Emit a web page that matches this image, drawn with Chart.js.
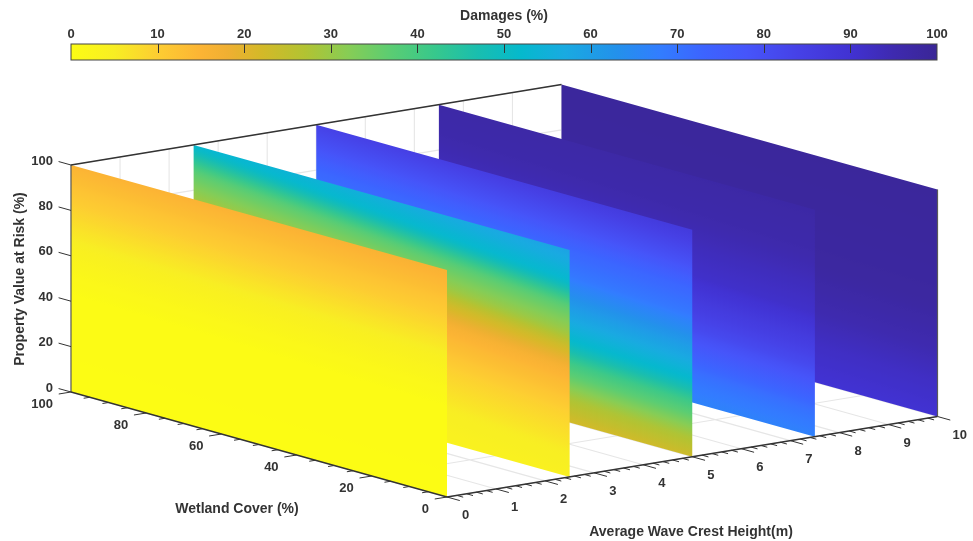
<!DOCTYPE html>
<html>
<head>
<meta charset="utf-8">
<title>Damages</title>
<script src="https://cdn.jsdelivr.net/npm/chart.js@4"></script>
<style>
  body { margin: 0; background: #fff; }
  #wrap { position: relative; width: 973px; height: 541px; overflow: hidden; }
  canvas { position: absolute; left: 0; top: 0; display: block; }
</style>
</head>
<body>
<div id="wrap">
  <canvas id="walls" width="973" height="541"></canvas>
  <canvas id="colorbar" width="973" height="70"></canvas>
</div>
<script>
// axes
const heightTicks = [0, 1, 2, 3, 4, 5, 6, 7, 8, 9, 10];
const coverTicks = [0, 20, 40, 60, 80, 100];
const riskTicks = [0, 20, 40, 60, 80, 100];
const damageTicks = [0, 10, 20, 30, 40, 50, 60, 70, 80, 90, 100];

// wave crest height of each wall, and how far the colour bands tilt with wetland cover
const wallHeights = [10, 7.5, 5, 2.5, 0];
const wallTilts = [0.05, 0.05, 0.06, 0.13, 0.03];

// damage read along each wall: levels are risk minus tilt * cover
const levels10 = [-5, 0, 15, 30, 50, 100];
const damages10 = [89, 90, 92, 95, 98, 99];
const levels75 = [-5, 0, 10, 18, 32, 54, 83, 100];
const damages75 = [66, 67, 70, 74, 82, 91, 96, 97];
const levels5 = [-6, 0, 9, 19, 24, 34, 48, 63, 75, 86, 100];
const damages5 = [21, 23, 28, 37, 41, 52, 60, 69, 73, 80, 87];
const levels25 = [-13, 0, 10, 30, 47, 57, 63, 75, 86, 100];
const damages25 = [3, 4, 5, 10, 16, 23, 29, 37, 52, 59];
const levels0 = [-3, 40, 50, 60, 70, 80, 90, 100];
const damages0 = [0, 0.5, 2, 4, 7, 10, 13, 16];
const wallLevels = [levels10, levels75, levels5, levels25, levels0];
const wallDamages = [damages10, damages75, damages5, damages25, damages0];

// colour map of the colour bar
const colorLevels = [0, 5, 10, 15, 18, 22, 27, 32, 37, 42, 47, 52, 57, 63, 68, 73, 78, 84, 90, 95, 100];
const colorValues = ['#fcfc14', '#f8ee23', '#fdcd32', '#fcb434', '#f0af32', '#d4b928', '#b2c332', '#87cd55', '#5acd73',
  '#37c88c', '#19beaf', '#05b9cd', '#19aae1', '#2391eb', '#327dff', '#3c64ff', '#4655fa', '#4641e6', '#4132d2', '#3e2aaf', '#3a2696'];

// projection of the 3D box on the page
const originX = 447, originY = 497;
const heightStepX = 49.05, heightStepY = -8.05;
const coverStepX = -3.76, coverStepY = -1.05;
const riskStepY = -2.27;

const labelFont = 'bold 13px "Liberation Sans", Arial, sans-serif';
const titleFont = 'bold 14px "Liberation Sans", Arial, sans-serif';
const textColor = '#333333';

function project(h, c, r) {
  return {
    x: originX + h * heightStepX + c * coverStepX,
    y: originY + h * heightStepY + c * coverStepY + r * riskStepY
  };
}

function hexToRgb(hex) {
  return [1, 3, 5].map(i => parseInt(hex.substr(i, 2), 16));
}

function lookup(xs, ys, v) {
  if (v <= xs[0]) return ys[0];
  for (let i = 1; i < xs.length; i++) {
    if (v <= xs[i]) return ys[i - 1] + (ys[i] - ys[i - 1]) * (v - xs[i - 1]) / (xs[i] - xs[i - 1]);
  }
  return ys[ys.length - 1];
}

function damageColor(d) {
  const idx = colorLevels.findIndex(l => l >= d);
  if (idx <= 0) return colorValues[0];
  const a = hexToRgb(colorValues[idx - 1]), b = hexToRgb(colorValues[idx]);
  const f = (d - colorLevels[idx - 1]) / (colorLevels[idx] - colorLevels[idx - 1]);
  return 'rgb(' + a.map((v, i) => Math.round(v + (b[i] - v) * f)).join(',') + ')';
}

// a linear gradient across the wall, its bands run along constant (risk - tilt * cover)
function wallGradient(chart, i) {
  if (!chart.chartArea) return colorValues[0];
  const sx = chart.scales.x, sy = chart.scales.y;
  const h = wallHeights[i], tilt = wallTilts[i];
  const levels = wallLevels[i], damages = wallDamages[i];
  const low = levels[0], high = levels[levels.length - 1];
  const a = project(h, 0, low), b = project(h, 0, high), along = project(h, 100, 100 * tilt + low);
  const ax = sx.getPixelForValue(a.x), ay = sy.getPixelForValue(a.y);
  const bx = sx.getPixelForValue(b.x), by = sy.getPixelForValue(b.y);
  const dx = sx.getPixelForValue(along.x) - ax, dy = sy.getPixelForValue(along.y) - ay;
  const len = Math.hypot(dx, dy);
  const nx = -dy / len, ny = dx / len;
  const dist = (bx - ax) * nx + (by - ay) * ny;
  const grad = chart.ctx.createLinearGradient(ax, ay, ax + nx * dist, ay + ny * dist);
  const steps = 60;
  for (let s = 0; s <= steps; s++) {
    grad.addColorStop(s / steps, damageColor(lookup(levels, damages, low + (high - low) * s / steps)));
  }
  return grad;
}

function segments(list) {
  const pts = [];
  list.forEach(seg => {
    pts.push(project(seg[0], seg[1], seg[2]), project(seg[3], seg[4], seg[5]), { x: null, y: null });
  });
  return pts;
}

function lineSet(data, color, width) {
  return { data, borderColor: color, borderWidth: width, pointRadius: 0, fill: false, spanGaps: false };
}

// grid on the floor and on the back plane
const gridSegs = [];
heightTicks.forEach(h => {
  gridSegs.push([h, 0, 0, h, 100, 0]);
  gridSegs.push([h, 100, 0, h, 100, 100]);
});
coverTicks.forEach(c => gridSegs.push([0, c, 0, 10, c, 0]));
riskTicks.forEach(r => gridSegs.push([0, 100, r, 10, 100, r]));

const tickSegs = [];
for (let h = 0; h <= 50; h++) {
  const v = h / 5, major = h % 5 === 0;
  tickSegs.push([v, 0, 0, v, major ? -3.4 : -1.7, 0]);
}
for (let c = 0; c <= 100; c += 5) {
  const major = c % 20 === 0;
  tickSegs.push([0, c, 0, major ? -0.25 : -0.125, c, 0]);
}
riskTicks.forEach(r => tickSegs.push([0, 100, r, 0, 103.3, r]));

const axisSegs = [
  [0, 0, 0, 10, 0, 0],
  [0, 0, 0, 0, 100, 0],
  [0, 100, 100, 10, 100, 100]
];
const edgeSegs = [
  [0, 100, 0, 0, 100, 100],
  [10, 0, 0, 10, 0, 100]
];

// painter's order, back to front
const paintOrder = [lineSet(segments(gridSegs), '#e6e6e6', 1.1)];
wallHeights.forEach((h, i) => {
  paintOrder.push({
    data: [project(h, 0, 0), project(h, 100, 0), project(h, 100, 100), project(h, 0, 100), project(h, 0, 0)],
    borderWidth: 0,
    pointRadius: 0,
    fill: 'shape',
    backgroundColor: ctx => wallGradient(ctx.chart, i)
  });
});
paintOrder.push(lineSet(segments(edgeSegs), '#5a5a5a', 1.2));
paintOrder.push(lineSet(segments(tickSegs), '#333333', 1));
paintOrder.push(lineSet(segments(axisSegs), '#333333', 1.3));

const textPlugin = {
  id: 'boxText',
  afterDraw(chart) {
    const { ctx, scales } = chart;
    const put = (text, p, dx, dy, align) => {
      ctx.textAlign = align;
      ctx.fillText(text, scales.x.getPixelForValue(p.x) + dx, scales.y.getPixelForValue(p.y) + dy);
    };
    ctx.save();
    ctx.fillStyle = textColor;
    ctx.textBaseline = 'middle';
    ctx.font = labelFont;
    riskTicks.forEach(r => put(String(r), project(0, 100, r), -18, -4, 'right'));
    coverTicks.forEach(c => put(String(c), project(0, c, 0), -18, 12.5, 'right'));
    heightTicks.forEach(h => put(String(h), project(h, 0, 0), 15, 18.5, 'left'));
    ctx.font = titleFont;
    ctx.textAlign = 'center';
    ctx.fillText('Wetland Cover (%)', 237, 509);
    ctx.fillText('Average Wave Crest Height(m)', 691, 532);
    ctx.translate(20, 279);
    ctx.rotate(-Math.PI / 2);
    ctx.fillText('Property Value at Risk (%)', 0, 0);
    ctx.restore();
  }
};

new Chart(document.getElementById('walls'), {
  type: 'line',
  data: { datasets: paintOrder.reverse() },
  options: {
    responsive: false,
    animation: false,
    layout: { padding: 0 },
    plugins: { legend: { display: false }, tooltip: { enabled: false } },
    scales: {
      x: { type: 'linear', display: false, min: 0, max: 973 },
      y: { type: 'linear', display: false, min: 0, max: 541, reverse: true }
    }
  },
  plugins: [textPlugin]
});

const barTicksPlugin = {
  id: 'barTicks',
  afterDatasetsDraw(chart) {
    const { ctx, chartArea, scales } = chart;
    ctx.save();
    ctx.strokeStyle = '#333333';
    ctx.lineWidth = 1;
    damageTicks.slice(1, -1).forEach(d => {
      const px = Math.round(scales.x.getPixelForValue(d)) + 0.5;
      ctx.beginPath();
      ctx.moveTo(px, chartArea.top);
      ctx.lineTo(px, chartArea.top + 9);
      ctx.stroke();
    });
    ctx.strokeStyle = '#444444';
    ctx.strokeRect(chartArea.left, chartArea.top, chartArea.right - chartArea.left, chartArea.bottom - chartArea.top);
    ctx.restore();
  }
};

new Chart(document.getElementById('colorbar'), {
  type: 'bar',
  data: {
    labels: ['Damages'],
    datasets: [{
      data: [[damageTicks[0], damageTicks[damageTicks.length - 1]]],
      barPercentage: 1,
      categoryPercentage: 1,
      backgroundColor: ctx => {
        const { chart } = ctx;
        if (!chart.chartArea) return colorValues[0];
        const sx = chart.scales.x;
        const grad = chart.ctx.createLinearGradient(sx.getPixelForValue(0), 0, sx.getPixelForValue(100), 0);
        colorLevels.forEach((l, i) => grad.addColorStop(l / 100, colorValues[i]));
        return grad;
      }
    }]
  },
  options: {
    indexAxis: 'y',
    responsive: false,
    animation: false,
    layout: { padding: { left: 71, right: 36, top: 0, bottom: 10 } },
    plugins: { legend: { display: false }, tooltip: { enabled: false } },
    scales: {
      x: {
        type: 'linear',
        position: 'top',
        min: 0,
        max: 100,
        afterBuildTicks(scale) { scale.ticks = damageTicks.map(value => ({ value })); },
        afterFit(scale) { scale.height = 44; },
        grid: { display: false, drawTicks: false },
        border: { display: false },
        ticks: { color: textColor, font: { family: '"Liberation Sans"', size: 13, weight: 'bold' }, maxRotation: 0, padding: 2 },
        title: {
          display: true,
          text: 'Damages (%)',
          color: textColor,
          font: { family: '"Liberation Sans"', size: 14, weight: 'bold' },
          padding: { top: 8, bottom: 0 }
        }
      },
      y: { display: false }
    }
  },
  plugins: [barTicksPlugin]
});
</script>
</body>
</html>
